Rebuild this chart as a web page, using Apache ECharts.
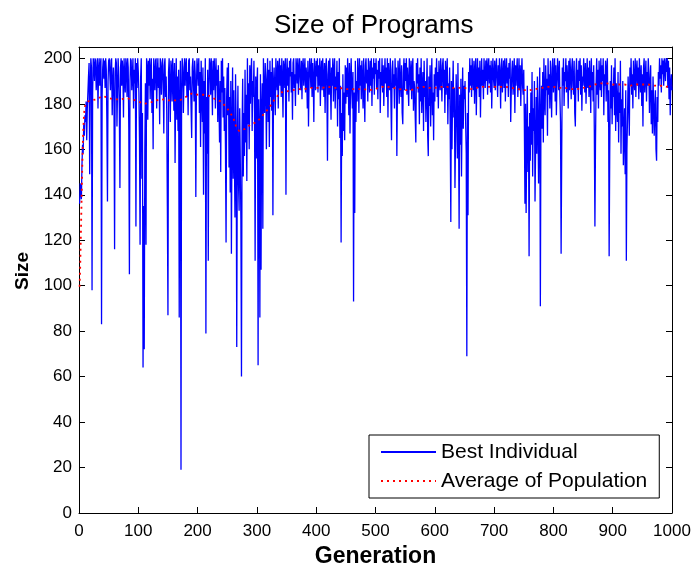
<!DOCTYPE html>
<html>
<head>
<meta charset="utf-8">
<script src="https://cdn.jsdelivr.net/npm/echarts@6/dist/echarts.min.js"></script>
<style>html,body{margin:0;padding:0;background:#fff;}#c{width:691px;height:566px;}</style>
</head>
<body>
<div id="c"></div>
<script>
// Best individual size, generations 1..1000
const bestSize = [
136,145,141,138,153,162,158,171,166,175,172,181,164,178,185,192,198,149,188,200,196,98,185,200,197,
190,200,199,186,193,200,178,195,200,188,197,200,83,184,196,200,191,199,187,200,195,172,137,190,199,
200,193,186,199,200,175,189,196,181,116,194,200,198,170,187,200,191,178,143,196,
200,188,199,195,174,200,192,185,200,197,183,200,196,168,105,190,200,199,186,193,
200,178,195,189,200,126,198,187,200,194,
185,164,118,192,200,147,176,64,135,72,160,189,118,200,196,173,199,188,200,182,
195,200,176,191,160,200,194,186,199,200,178,193,200,187,196,171,200,198,184,195,
200,189,167,197,200,183,192,176,135,87,
194,200,188,172,199,196,181,200,190,177,198,154,187,200,173,192,168,195,86,180,
199,19,185,200,196,176,191,200,188,197,200,183,194,175,199,200,186,192,178,165,
196,200,189,181,199,193,139,187,200,195,
188,200,176,194,161,199,185,172,196,140,190,167,200,79,183,158,195,111,188,200,
197,184,200,191,175,199,186,200,193,178,200,188,195,172,197,181,163,190,150,199,
185,200,174,192,168,187,160,119,183,196,
175,198,152,183,141,190,114,168,196,147,186,158,130,193,171,73,162,188,145,133,
178,155,129,60,169,191,148,176,157,195,163,184,146,200,171,189,160,197,180,193,
200,168,190,183,199,176,111,192,156,188,
196,65,182,170,86,193,107,178,189,125,200,185,176,198,191,160,188,200,172,195,
161,199,183,194,177,200,131,189,196,185,175,200,192,186,199,178,195,200,188,197,
183,200,191,174,199,196,187,200,140,193,
200,188,196,181,199,192,200,185,194,173,198,200,187,193,179,200,196,189,200,184,
195,200,191,186,199,182,197,200,188,194,200,185,196,192,178,199,170,190,200,195,
187,200,183,198,191,172,200,194,186,199,
192,200,185,197,188,200,179,194,199,186,200,191,183,198,176,195,200,187,155,193,
199,184,200,190,173,196,188,200,181,195,200,178,192,186,199,170,194,182,200,165,
188,119,176,157,193,168,185,164,197,180,
196,183,200,189,175,198,167,191,200,186,178,194,93,185,132,199,172,190,181,200,
193,176,200,188,197,182,199,191,178,200,186,172,197,200,189,195,181,200,192,185,
199,188,200,179,196,191,200,184,198,193,
200,187,195,182,199,191,200,176,194,188,200,185,197,179,192,200,189,196,183,200,
174,198,190,186,200,181,164,195,199,187,193,178,200,188,196,157,185,199,192,180,
200,189,183,197,176,171,194,200,186,198,
190,200,184,196,188,179,200,193,186,199,182,195,200,177,190,187,174,163,198,189,
200,185,193,171,196,181,200,176,188,194,168,199,183,190,172,186,200,166,157,192,
179,197,170,188,200,175,185,164,193,181,
196,188,200,183,194,178,199,190,186,200,192,181,197,200,187,195,176,199,184,193,
200,171,189,182,196,168,128,190,160,185,199,174,187,143,165,193,180,156,198,170,
125,184,162,191,148,177,196,169,188,182,
190,172,158,69,176,131,194,185,200,188,197,183,200,191,186,199,180,195,200,175,
192,200,187,196,183,199,174,191,200,188,195,182,200,193,187,199,190,200,184,196,
200,189,197,185,199,178,193,200,191,187,
199,186,195,200,190,183,197,188,200,193,178,196,200,185,192,199,187,200,181,194,
200,189,196,183,198,191,200,172,186,195,199,184,192,200,176,197,188,195,200,183,
191,200,186,197,179,193,200,188,184,195,
172,136,180,132,165,188,150,170,113,176,155,185,162,194,148,178,168,190,137,160,
183,158,192,171,145,180,196,91,175,188,169,194,163,200,182,175,197,186,191,166,
200,184,193,178,199,188,174,196,200,185,
192,200,181,197,175,189,200,193,186,199,183,172,114,158,196,188,200,179,194,190,
200,185,197,191,178,199,186,200,193,182,196,200,188,184,199,176,170,193,200,187,
195,181,199,190,200,184,197,177,192,188,
200,193,185,198,180,191,200,187,196,183,199,190,176,200,186,194,181,197,168,126,
163,189,200,184,195,178,199,191,186,200,183,197,190,200,175,193,188,199,181,195,
200,172,186,113,159,190,178,197,171,188,
183,196,175,200,168,189,180,172,194,163,185,176,199,158,182,170,190,153,167,178,
149,186,111,160,174,192,181,166,196,188,200,184,193,178,199,190,186,200,183,195,
199,188,196,182,200,191,185,197,179,193,
170,196,200,185,192,199,181,194,188,200,193,176,189,197,171,186,167,192,180,166,
178,186,160,155,183,172,194,188,200,191,197,185,200,193,199,188,200,196,190,200,
194,200,187,199,182,196,175,189,193,186
];

// Average of population, sampled generations
const avgGen = [1,2,3,4,5,6,7,8,9,10,15,20,30,40,50,60,70,80,90,100,110,120,130,140,150,160,170,180,190,200,
210,220,230,240,250,260,265,270,280,290,300,310,320,330,340,350,360,370,380,390,400,
410,420,430,440,450,460,470,480,490,500,510,520,530,540,550,560,570,580,590,600,
610,620,630,640,650,660,670,680,690,700,710,720,730,740,750,760,770,780,790,800,
810,820,830,840,850,860,870,880,890,900,910,920,930,940,950,960,970,980,990,1000];
const avgSize = [99.5,108,120,133,146,158,167,173,177,179,181,181.5,182,183.5,182.5,182,182,182.5,182,181,180,180.5,181.5,182,181.5,181.5,181.5,183,184.5,184,
184,183.5,182,181,178,174,170,168,169,171,172,175,178,182,185,185.5,186,186.5,186.5,187,187,
187,187.5,187,187,186.5,186.5,186.5,186.5,186,186.5,187.5,187.5,187,186.5,186,186,187,187.5,187,187,
187.5,187.5,187,187,187,186.5,187,187.5,187.5,187.5,187.5,187.5,187,186.5,186,186,186.5,187,187.5,187.5,
187,187,186.5,186.5,187,187.5,188.5,189,189,188.5,188.5,188.5,188,188.5,188.5,188.5,188,188,187.5,188];

const xTicks = {min: 0, max: 1000, interval: 100};
const yTicks = {min: 0, max: 205, interval: 20};

const bestData = bestSize.map((v, i) => [i + 1, v]);
const avgData = avgGen.map((g, i) => [g, avgSize[i]]);

const sans = "'Liberation Sans', Arial, sans-serif";

const chart = echarts.init(document.getElementById('c'), null, {renderer: 'canvas'});
function axisCommon() {
  return {
    axisLine: {show: true, onZero: false, lineStyle: {color: '#000', width: 1}},
    axisTick: {show: true, inside: true, length: 6, lineStyle: {color: '#000'}},
    splitLine: {show: false}
  };
}
chart.setOption({
  animation: false,
  backgroundColor: '#fff',
  title: {
    text: 'Size of Programs',
    left: 274, top: 13, padding: 0,
    textStyle: {fontFamily: sans, fontSize: 26, fontWeight: 'normal', color: '#000'}
  },
  grid: {left: 79, right: 19, top: 47, bottom: 53, containLabel: false, outerBoundsMode: 'none'},
  legend: {
    orient: 'vertical', left: 369, top: 435,
    itemWidth: 55, itemHeight: 14, itemGap: 7,
    padding: [6, 12, 6, 11],
    borderColor: '#000', borderWidth: 1, borderRadius: 0, backgroundColor: '#fff',
    itemStyle: {opacity: 0, borderWidth: 0},
    textStyle: {fontFamily: sans, fontSize: 21, color: '#000', lineHeight: 22},
    data: ['Best Individual', 'Average of Population']
  },
  xAxis: [
    Object.assign(axisCommon(), {
      type: 'value', position: 'bottom', min: xTicks.min, max: xTicks.max, interval: xTicks.interval,
      name: 'Generation', nameLocation: 'middle', nameGap: 29,
      nameTextStyle: {fontFamily: sans, fontSize: 23, fontWeight: 'bold', color: '#000'},
      axisLabel: {margin: 10, fontFamily: sans, fontSize: 17, color: '#000', formatter: v => String(v)}
    }),
    Object.assign(axisCommon(), {
      type: 'value', position: 'top', min: xTicks.min, max: xTicks.max, interval: xTicks.interval,
      axisLabel: {show: false}
    })
  ],
  yAxis: [
    Object.assign(axisCommon(), {
      type: 'value', position: 'left', min: yTicks.min, max: yTicks.max, interval: yTicks.interval,
      name: 'Size', nameLocation: 'middle', nameGap: 44,
      nameTextStyle: {fontFamily: sans, fontSize: 19, fontWeight: 'bold', color: '#000', padding: [0, 0, 0, 18]},
      axisLabel: {margin: 7, fontFamily: sans, fontSize: 17, color: '#000', showMaxLabel: false, formatter: v => String(v)}
    }),
    Object.assign(axisCommon(), {
      type: 'value', position: 'right', min: yTicks.min, max: yTicks.max, interval: yTicks.interval,
      axisLabel: {show: false}
    })
  ],
  series: [
    {
      name: 'Best Individual', type: 'line', data: bestData,
      showSymbol: false, symbol: 'none', z: 2,
      lineStyle: {color: '#0000ff', width: 1.3},
      itemStyle: {color: '#0000ff'}
    },
    {
      name: 'Average of Population', type: 'line', data: avgData,
      showSymbol: false, symbol: 'none', z: 3,
      lineStyle: {color: '#ff0000', width: 1.8, type: [2, 4]},
      itemStyle: {color: '#ff0000'}
    }
  ]
});
</script>
</body>
</html>
